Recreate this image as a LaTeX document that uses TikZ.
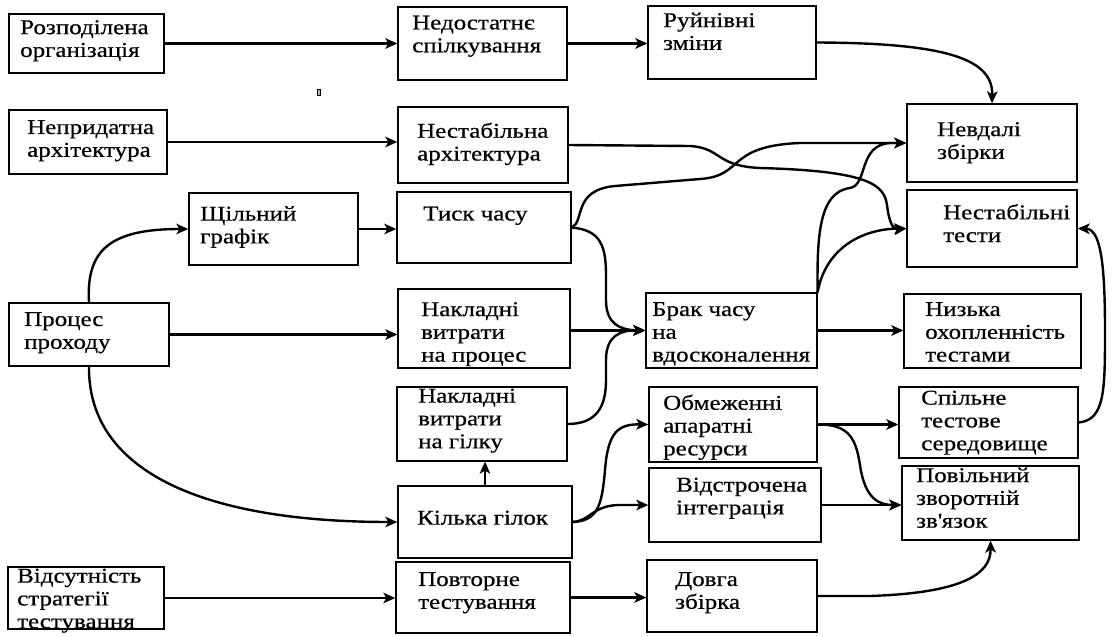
\documentclass[tikz,border=0pt]{standalone}
\usepackage{fontspec}
\setmainfont{Liberation Serif}[FakeStretch=1.19,FakeBold=0.5]
\usetikzlibrary{arrows.meta}

% box: name, left, top, right, bottom
\newcommand\cbox[5]{%
  \node[box,minimum width={#4-#2},minimum height={#5-#3}] (#1) at ({(#2+#4)/2},{(#3+#5)/2}) {};}
% caption inside a box: name, x, y of top-left, text
\newcommand\ctext[4]{%
  \node[txt] (#1) at (#2,#3) {#4};}

\begin{document}
\begin{tikzpicture}[x=1pt,y=-1pt,
  box/.style={draw=black,line width=1.3pt,inner sep=0pt,fill=white},
  txt/.style={anchor=north west,align=left,inner sep=0pt,
    font=\fontsize{21}{22.8}\selectfont},
  link/.style={line width=2.4pt,-{Stealth[length=12pt,width=10.5pt,inset=3pt]}}]

\useasboundingbox (0,0) rectangle (1112,637);

% ---- boxes ----
\cbox{rozp}{9}{14}{164}{73}
\cbox{nedost}{398}{7}{567}{80}
\cbox{ruin}{648}{6}{816}{79}
\cbox{neprid}{9}{110}{167}{174}
\cbox{nestab}{398}{107}{568}{183}
\cbox{nevd}{907}{104}{1077}{182}
\cbox{shchil}{189}{193}{358}{265}
\cbox{tysk}{397}{192}{571}{263}
\cbox{ntest}{907}{190}{1077}{267}
\cbox{proc}{9}{303}{169}{366}
\cbox{nproc}{398}{289}{570}{368}
\cbox{brak}{646}{293}{817}{368}
\cbox{nyzk}{904}{294}{1081}{368}
\cbox{ngil}{397}{387}{567}{461}
\cbox{obm}{649}{387}{817}{462}
\cbox{spil}{899}{387}{1078}{458}
\cbox{kilk}{398}{486}{572}{558}
\cbox{vidstr}{649}{468}{821}{542}
\cbox{povil}{902}{466}{1079}{540}
\cbox{vids}{8}{567}{164}{629}
\cbox{povt}{396}{562}{570}{633}
\cbox{dovh}{647}{560}{817}{632}

% small mark
\node[draw=black,line width=0.8pt,fill=black!30,inner sep=0pt,
  minimum width=3pt,minimum height=6pt] (mark) at (319,92) {};

% ---- captions ----
\ctext{t-rozp}{20}{20}{Розподілена\\організація}
\ctext{t-nedost}{412}{15.5}{Недостатнє\\спілкування}
\ctext{t-ruin}{663}{12.5}{Руйнівні\\зміни}
\ctext{t-neprid}{27}{120}{Непридатна\\архітектура}
\ctext{t-nestab}{417}{122.5}{Нестабільна\\архітектура}
\ctext{t-nevd}{937}{122}{Невдалі\\збірки}
\ctext{t-shchil}{200}{206}{Щільний\\графік}
\ctext{t-tysk}{423}{206.5}{Тиск часу}
\ctext{t-ntest}{943}{204}{Нестабільні\\тести}
\ctext{t-proc}{24}{312}{Процес\\проходу}
\ctext{t-nproc}{421}{302}{Накладні\\витрати\\на процес}
\ctext{t-brak}{652}{302}{Брак часу\\на\\вдосконалення}
\ctext{t-nyzk}{925}{302}{Низька\\охопленність\\тестами}
\ctext{t-ngil}{418}{388.5}{Накладні\\витрати\\на гілку}
\ctext{t-obm}{663}{394.5}{Обмеженні\\апаратні\\ресурси}
\ctext{t-spil}{921}{390.5}{Спільне\\тестове\\середовище}
\ctext{t-kilk}{417}{510.5}{Кілька гілок}
\ctext{t-vidstr}{676}{477.5}{Відстрочена\\інтеграція}
\ctext{t-povil}{916}{467.5}{Повільний\\зворотній\\зв\textquotesingle язок}
\ctext{t-vids}{17}{568.5}{Відсутність\\стратегії\\тестування}
\ctext{t-povt}{418}{572}{Повторне\\тестування}
\ctext{t-dovh}{675}{572}{Довга\\збірка}

% ---- connectors ----
\draw[link] (rozp.east) -- (rozp.east -| nedost.west);
\draw[link] (nedost.east) -- (nedost.east -| ruin.west);
\draw[link] (ruin.east) .. controls (950,43) and (993,60) .. (nevd.north);
\draw[link] (neprid.east) -- (neprid.east -| nestab.west);
\draw[link] (nestab.east) -- (690,146) .. controls (722,148) and (715,166) .. (760,168)
  .. controls (870,171) and (884,185) .. (887,205) .. controls (889,222) and (893,230) .. (ntest.west);
\draw[link] (tysk.east) .. controls (585,222) and (572,190) .. (615,186) -- (700,179)
  .. controls (745,176) and (725,146) .. (800,143) -- (nevd.west);
\draw[link] (tysk.east) .. controls (600,230) and (606,245) .. (606,275) -- (606,300)
  .. controls (606,324) and (620,330) .. (brak.west);
\draw[link] (nproc.east |- brak.west) -- (brak.west);
\draw[link] (ngil.east) .. controls (598,424) and (606,405) .. (606,380) -- (606,360)
  .. controls (606,336) and (620,330) .. (brak.west);
\draw[link] (brak.north east) .. controls (817,240) and (818,192) .. (850,188)
  .. controls (868,185) and (858,145) .. (890,143) -- (nevd.west);
\draw[link] (brak.north east) .. controls (825,250) and (860,229) .. (ntest.west);
\draw[link] (brak.east) -- (brak.east -| nyzk.west);
\draw[link] (shchil.east) -- (shchil.east -| tysk.west);
\draw[link] (proc.north) .. controls (86,250) and (110,229) .. (shchil.west);
\draw[link] (proc.east) -- (proc.east -| nproc.west);
\draw[link] (proc.south) .. controls (88,470) and (200,522) .. (kilk.west);
\draw[link] (kilk.north) -- (kilk.north |- ngil.south);
\draw[link] (kilk.east) .. controls (598,521) and (602,505) .. (605,470)
  .. controls (608,432) and (618,424) .. (obm.west);
\draw[link] (kilk.east) .. controls (590,521) and (592,506) .. (618,505) -- (vidstr.west);
\draw[link] (obm.east) -- (obm.east -| spil.west);
\draw[link] (obm.east) .. controls (850,424) and (856,440) .. (860,465)
  .. controls (865,500) and (880,505) .. (vidstr.east -| povil.west);
\draw[link] (vidstr.east) -- (vidstr.east -| povil.west);
\draw[link] (spil.east) .. controls (1105,420) and (1105,390) .. (1105,330)
  .. controls (1105,260) and (1100,229) .. (ntest.east);
\draw[link] (dovh.east) -- (870,596) .. controls (960,593) and (991,575) .. (povil.south);
\draw[link] (vids.east) -- (vids.east -| povt.west);
\draw[link] (povt.east) -- (povt.east -| dovh.west);
\end{tikzpicture}
\end{document}
